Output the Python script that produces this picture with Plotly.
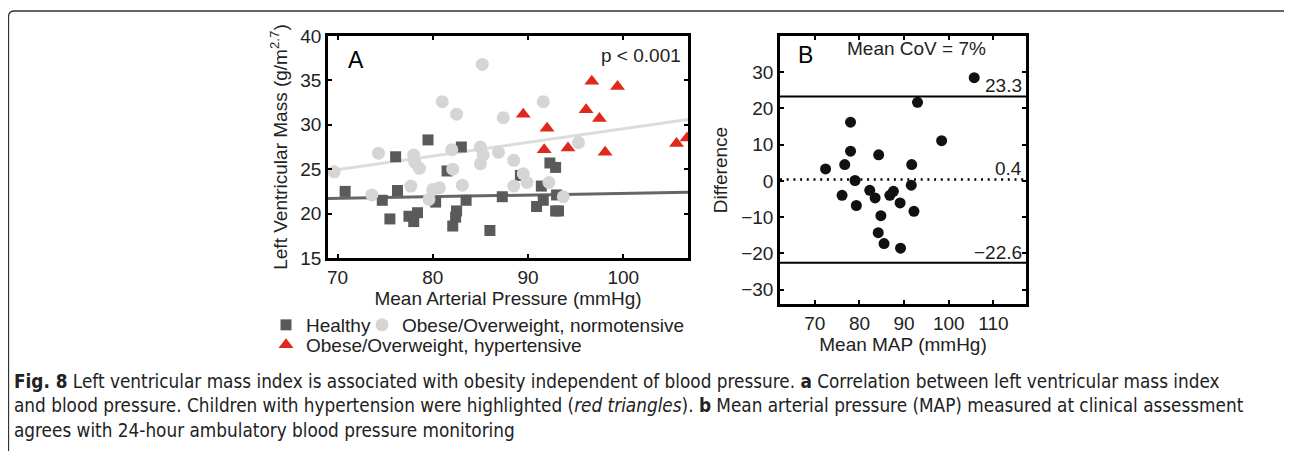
import plotly.graph_objects as go

# The page body has an 8px default margin, so the figure is sized to fit the
# 1292x451 window and all pixel positions below are converted with that offset.
OFF = 8
W, H = 1292 - OFF, 451 - OFF

# ---------------- data: panel A ----------------
healthy_x = [70.8, 74.7, 75.5, 76.1, 76.3, 77.5, 78.0, 78.4, 79.5, 80.3, 81.5, 82.5, 82.4, 82.1,
             83.0, 83.5, 86.0, 87.3, 89.2, 90.9, 91.4, 91.6, 92.3, 92.9, 92.9, 93.2, 93.0]
healthy_y = [22.5, 21.5, 19.4, 26.4, 22.6, 19.7, 19.1, 20.1, 28.3, 21.3, 24.8, 20.3, 19.6, 18.6,
             27.5, 21.5, 18.1, 21.9, 24.3, 20.8, 23.1, 21.5, 25.7, 25.2, 20.3, 20.3, 22.1]

obese_norm_x = [69.65, 73.6, 74.3, 78.0, 77.7, 78.1, 78.6, 79.6, 80.0, 80.7, 81.0, 82.5, 82.0, 82.1,
                83.1, 85.2, 85.0, 85.3, 85.0, 86.9, 87.4, 88.5, 88.5, 89.5, 89.9, 91.6, 92.2, 93.7, 95.3]
obese_norm_y = [24.7, 22.1, 26.8, 26.6, 23.1, 25.8, 25.1, 21.6, 22.7, 22.9, 32.6, 31.2, 27.2, 25.0,
                23.2, 36.8, 27.5, 26.6, 25.6, 26.9, 30.8, 26.0, 23.1, 24.5, 23.5, 32.6, 23.5, 21.9, 28.0]

obese_hyp_x = [89.5, 92.0, 91.7, 94.2, 96.7, 96.1, 97.5, 98.1, 99.4, 105.6, 106.7]
obese_hyp_y = [31.2, 29.6, 27.2, 27.4, 34.9, 31.7, 30.7, 26.9, 34.3, 27.9, 28.5]

fit_x = [69.0, 106.8]
healthy_fit_y = [21.7, 22.4]
obese_fit_y = [24.8, 30.6]

# ---------------- data: panel B ----------------
ba_mean = [105.7, 93.0, 78.0, 98.4, 78.0, 84.3, 76.7, 91.7, 72.4, 79.0, 91.6, 76.1, 82.3, 83.5,
           87.6, 86.8, 79.3, 89.1, 92.2, 84.8, 84.2, 85.5, 89.2]
ba_diff = [28.5, 21.7, 16.2, 11.1, 8.2, 7.2, 4.5, 4.5, 3.3, 0.1, -1.2, -4.0, -2.6, -4.7,
           -2.9, -4.0, -6.8, -6.1, -8.4, -9.6, -14.3, -17.3, -18.6]
loa_values = [23.3, 0.4, -22.6]
loa_labels = ["23.3", "0.4", "\u221222.6"]

a_xticks = [70, 80, 90, 100]
a_yticks = [15, 20, 25, 30, 35, 40]
b_xticks = [70, 80, 90, 100, 110]
b_yticks = [-30, -20, -10, 0, 10, 20, 30]

# ---------------- styling ----------------
FONT = "Liberation Sans, Arial, Helvetica, sans-serif"
CAP_FONT = "Liberation Sans Narrow, Arial Narrow, DejaVu Sans Condensed, sans-serif"
DARK = "#5a5a5a"
LIGHT = "#d5d5d5"
RED = "#e0281c"


def X(p):
    return (p - OFF) / W


def Y(p):
    return 1 - (p - OFF) / H


fig = go.Figure()

# Panel A fit lines
fig.add_trace(go.Scatter(x=fit_x, y=obese_fit_y, mode="lines", line=dict(color="#dcdcdc", width=3),
                         showlegend=False, xaxis="x", yaxis="y", hoverinfo="skip"))
fig.add_trace(go.Scatter(x=fit_x, y=healthy_fit_y, mode="lines", line=dict(color="#666666", width=3),
                         showlegend=False, xaxis="x", yaxis="y", hoverinfo="skip"))

fig.add_trace(go.Scatter(x=healthy_x, y=healthy_y, mode="markers", name="Healthy",
                         marker=dict(symbol="square", size=11, color=DARK),
                         xaxis="x", yaxis="y", legend="legend", legendwidth=51))
fig.add_trace(go.Scatter(x=obese_norm_x, y=obese_norm_y, mode="markers",
                         name="Obese/Overweight, normotensive",
                         marker=dict(symbol="circle", size=13, color=LIGHT),
                         xaxis="x", yaxis="y", legend="legend"))
fig.add_trace(go.Scatter(x=obese_hyp_x, y=obese_hyp_y, mode="markers",
                         name="Obese/Overweight, hypertensive",
                         marker=dict(symbol="triangle-up", size=13, color=RED),
                         xaxis="x", yaxis="y", legend="legend2"))

# Panel B
for v in loa_values:
    is_mean = v == loa_values[1]
    fig.add_trace(go.Scatter(x=[62.2, 117.3], y=[v, v], mode="lines",
                             line=dict(color="black", width=2.5 if is_mean else 2,
                                       dash="2px,4.7px" if is_mean else "solid"),
                             showlegend=False, xaxis="x2", yaxis="y2", hoverinfo="skip"))
fig.add_trace(go.Scatter(x=ba_mean, y=ba_diff, mode="markers",
                         marker=dict(symbol="circle", size=11, color="#111111"),
                         showlegend=False, xaxis="x2", yaxis="y2"))

axis_common = dict(showline=True, linecolor="black", linewidth=2.5, mirror="allticks",
                   ticks="inside", ticklen=4, tickwidth=1.5, tickcolor="black",
                   showgrid=False, zeroline=False, automargin=False,
                   tickfont=dict(family=FONT, size=19, color="#222"))

fig.update_layout(
    width=W, height=H,
    margin=dict(l=0, r=0, t=0, b=0),
    paper_bgcolor="white", plot_bgcolor="white",
    font=dict(family=FONT, size=19, color="#222"),
    xaxis=dict(domain=[X(328), X(688)], range=[69.0, 106.8], tickvals=a_xticks, anchor="y",
               title=dict(text="Mean Arterial Pressure (mmHg)", font=dict(size=19), standoff=2),
               **axis_common),
    yaxis=dict(domain=[Y(258), Y(36)], range=[15, 40], tickvals=a_yticks, anchor="x",
               title=dict(text="Left Ventricular Mass (g/m<sup>2.7</sup>)", font=dict(size=19), standoff=8),
               **axis_common),
    xaxis2=dict(domain=[X(780), X(1026)], range=[62.2, 117.3], tickvals=b_xticks, anchor="y2",
                title=dict(text="Mean MAP (mmHg)", font=dict(size=19), standoff=5),
                **axis_common),
    yaxis2=dict(domain=[Y(304), Y(36)], range=[-34, 40], tickvals=b_yticks, anchor="x2",
                title=dict(text="Difference", font=dict(size=19), standoff=9),
                **axis_common),
    legend=dict(orientation="h", x=X(266), xanchor="left", y=Y(306), yanchor="top",
                font=dict(size=19, family=FONT, color="#222"), itemwidth=30,
                bgcolor="rgba(0,0,0,0)", borderwidth=0, tracegroupgap=0),
    legend2=dict(orientation="h", x=X(266), xanchor="left", y=Y(326), yanchor="top",
                 font=dict(size=19, family=FONT, color="#222"), itemwidth=30,
                 bgcolor="rgba(0,0,0,0)", borderwidth=0),
)

annotations = [
    dict(text="A", xref="x domain", yref="y domain", x=0.05, y=0.96, xanchor="left", yanchor="top",
         showarrow=False, font=dict(size=23, family=FONT, color="black")),
    dict(text="p < 0.001", xref="x domain", yref="y domain", x=0.985, y=0.97, xanchor="right",
         yanchor="top", showarrow=False, font=dict(size=19, family=FONT, color="#222")),
    dict(text="B", xref="x2 domain", yref="y2 domain", x=0.065, y=0.985, xanchor="left", yanchor="top",
         showarrow=False, font=dict(size=23, family=FONT, color="black")),
    dict(text="Mean CoV = 7%", xref="x2 domain", yref="y2 domain", x=0.555, y=1.0, xanchor="center",
         yanchor="top", showarrow=False, font=dict(size=19, family=FONT, color="#222")),
]
for v, lab in zip(loa_values, loa_labels):
    annotations.append(dict(text=lab, xref="x2 domain", yref="y2", x=0.99, y=v, xanchor="right",
                            yanchor="bottom", showarrow=False, yshift=-2,
                            font=dict(size=19, family=FONT, color="#222")))

caption = ("<b>Fig. 8</b> Left ventricular mass index is associated with obesity independent of blood "
           "pressure. <b>a</b> Correlation between left ventricular mass index<br>"
           "and blood pressure. Children with hypertension were highlighted (<i>red triangles</i>). "
           "<b>b</b> Mean arterial pressure (MAP) measured at clinical assessment<br>"
           "agrees with 24-hour ambulatory blood pressure monitoring")
annotations.append(dict(text=caption, xref="paper", yref="paper", x=X(12), y=Y(369), xanchor="left",
                        yanchor="top", align="left", showarrow=False,
                        font=dict(size=18.8, family=CAP_FONT, color="#222")))
fig.update_layout(annotations=annotations)

# Frame with rounded top corners
r = 6
path = (f"M {X(8.5)},{Y(480)} L {X(8.5)},{Y(11 + r)} Q {X(8.5)},{Y(11)} {X(8.5 + r)},{Y(11)} "
        f"L {X(1290 - r)},{Y(11)} Q {X(1290)},{Y(11)} {X(1290)},{Y(11 + r)} L {X(1290)},{Y(480)}")
fig.add_shape(type="path", path=path, xref="paper", yref="paper", line=dict(color="#333", width=1.3))

fig.write_html("out.html")
